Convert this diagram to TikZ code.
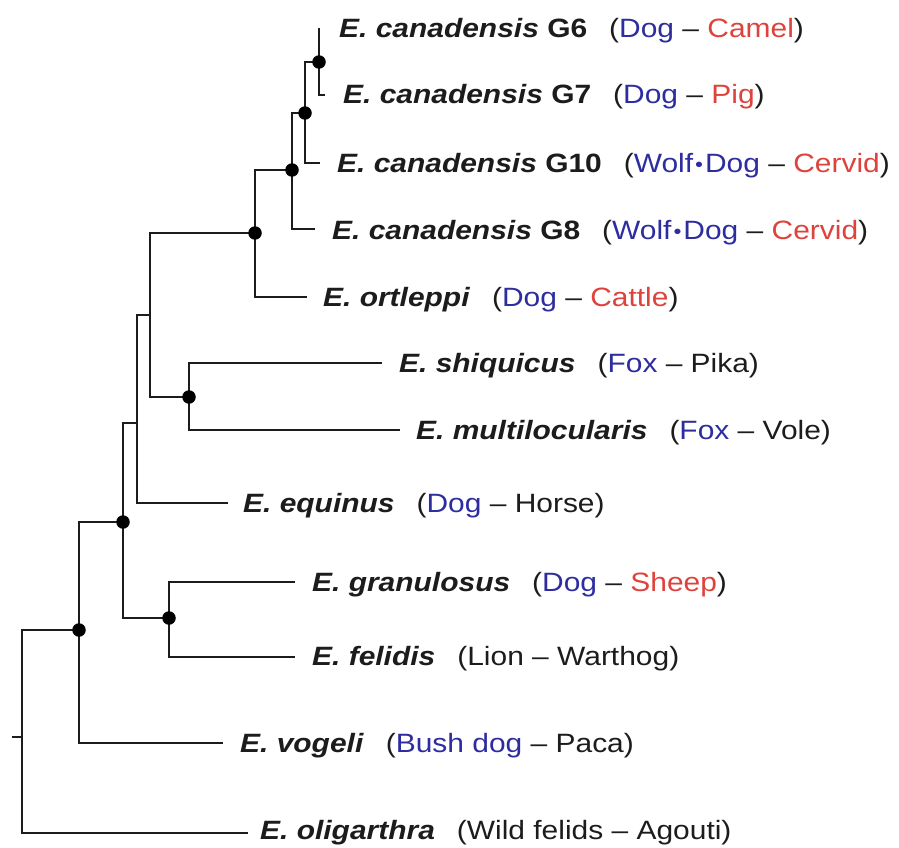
\documentclass[tikz,border=0pt]{standalone}
\usepackage{fontspec}
\setmainfont{Liberation Sans}[FakeStretch=1.13]
\definecolor{hostblue}{RGB}{45,45,160}
\definecolor{hostred}{RGB}{222,66,60}
\definecolor{ink}{RGB}{28,28,28}
\newcommand{\spname}[1]{\textbf{\textit{#1}}}
\newcommand{\gapp}{\hspace{22pt}}
\newcommand{\hb}[1]{\textcolor{hostblue}{#1}}
\newcommand{\hr}[1]{\textcolor{hostred}{#1}}
\newcommand{\wdot}{\hspace{2pt}\raisebox{0.5pt}{\fontsize{20}{20}\selectfont •}\hspace{2pt}}
\begin{document}
\begin{tikzpicture}[x=1pt,y=-1pt,
  branch/.style={draw=ink, line width=2.3pt},
  dotnode/.style={circle, fill=black, inner sep=0pt, minimum size=13.5pt},
  taxon/.style={anchor=base west, inner sep=0pt, text=ink, font=\fontsize{26.5}{30}\selectfont}]
\useasboundingbox (0,0) rectangle (899,848);
% internal nodes
\coordinate (rootstub) at (12,737);
\coordinate (root) at (22,737);
\coordinate (n1) at (79,630);
\coordinate (n2) at (123,522);
\coordinate (n3) at (137,423);
\coordinate (n4) at (150,315);
\coordinate (n5) at (255,233);
\coordinate (n6) at (292,170);
\coordinate (n7) at (305,113);
\coordinate (n8) at (319,62);
\coordinate (n9) at (189,397);
\coordinate (n10) at (169,618);
% leaf ends
\coordinate (lG6) at (319,28);
\coordinate (lG7) at (325,95);
\coordinate (lG10) at (320,163);
\coordinate (lG8) at (315,229);
\coordinate (lort) at (307,297);
\coordinate (lshi) at (382,363);
\coordinate (lmul) at (400,430);
\coordinate (lequ) at (228,503);
\coordinate (lgra) at (295,582);
\coordinate (lfel) at (295,657);
\coordinate (lvog) at (223,743);
\coordinate (loli) at (248,833);
% branches
\draw[branch] (rootstub) -- (root);
\draw[branch] (root) |- (n1);
\draw[branch] (root) |- (loli);
\draw[branch] (n1) |- (n2);
\draw[branch] (n1) |- (lvog);
\draw[branch] (n2) |- (n3);
\draw[branch] (n2) |- (n10);
\draw[branch] (n10) |- (lgra);
\draw[branch] (n10) |- (lfel);
\draw[branch] (n3) |- (n4);
\draw[branch] (n3) |- (lequ);
\draw[branch] (n4) |- (n5);
\draw[branch] (n4) |- (n9);
\draw[branch] (n9) |- (lshi);
\draw[branch] (n9) |- (lmul);
\draw[branch] (n5) |- (n6);
\draw[branch] (n5) |- (lort);
\draw[branch] (n6) |- (n7);
\draw[branch] (n6) |- (lG8);
\draw[branch] (n7) |- (n8);
\draw[branch] (n7) |- (lG10);
\draw[branch] (n8) |- (lG6);
\draw[branch] (n8) |- (lG7);
% support dots
\foreach \n in {n1,n2,n5,n6,n7,n8,n9,n10} \node[dotnode] (d\n) at (\n) {};
% labels
\node[taxon] (tG6) at (339,38) {\spname{E. canadensis} \textbf{G6}\gapp(\hb{Dog} – \hr{Camel})};
\node[taxon] (tG7) at (343,104) {\spname{E. canadensis} \textbf{G7}\gapp(\hb{Dog} – \hr{Pig})};
\node[taxon] (tG10) at (337,172) {\spname{E. canadensis} \textbf{G10}\gapp(\hb{Wolf\wdot Dog} – \hr{Cervid})};
\node[taxon] (tG8) at (332,239) {\spname{E. canadensis} \textbf{G8}\gapp(\hb{Wolf\wdot Dog} – \hr{Cervid})};
\node[taxon] (tort) at (323,306) {\spname{E. ortleppi}\gapp(\hb{Dog} – \hr{Cattle})};
\node[taxon] (tshi) at (399,372) {\spname{E. shiquicus}\gapp(\hb{Fox} – Pika)};
\node[taxon] (tmul) at (416,439) {\spname{E. multilocularis}\gapp(\hb{Fox} – Vole)};
\node[taxon] (tequ) at (243,512) {\spname{E. equinus}\gapp(\hb{Dog} – Horse)};
\node[taxon] (tgra) at (312,591) {\spname{E. granulosus}\gapp(\hb{Dog} – \hr{Sheep})};
\node[taxon] (tfel) at (312,665) {\spname{E. felidis}\gapp(Lion – Warthog)};
\node[taxon] (tvog) at (240,752) {\spname{E. vogeli}\gapp(\hb{Bush dog} – Paca)};
\node[taxon] (toli) at (260,839) {\spname{E. oligarthra}\gapp(Wild felids – Agouti)};
\end{tikzpicture}
\end{document}
